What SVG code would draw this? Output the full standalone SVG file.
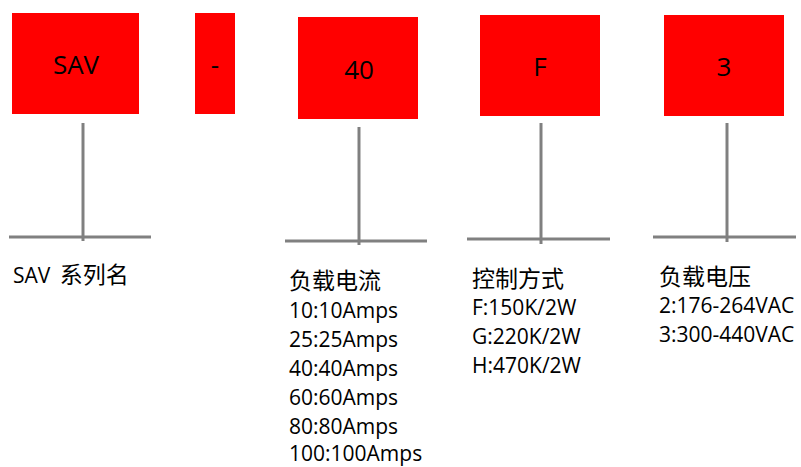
<svg xmlns="http://www.w3.org/2000/svg" width="801" height="467" viewBox="0 0 801 467">
<style>
.box{fill:#ff0000}
.bl{font-family:"Open Sans","Liberation Sans",sans-serif;font-size:26px;fill:#000;text-anchor:middle}
.t{font-family:"Open Sans","Noto Sans CJK SC",sans-serif;font-size:21px;fill:#000}
.cj{font-family:"Noto Sans CJK SC",sans-serif;font-size:23px}
.ln{stroke:#808080;stroke-width:3;fill:none}
</style>
<rect width="801" height="467" fill="#fff"/>
<g id="node-sav"><rect class="box" x="12" y="13" width="127" height="101"/><text class="bl" x="76" y="74">SAV</text></g>
<g id="node-dash"><rect class="box" x="195" y="13" width="40" height="101"/><text class="bl" x="215" y="74">-</text></g>
<g id="node-40"><rect class="box" x="298" y="17" width="120" height="102"/><text class="bl" x="359" y="79">40</text></g>
<g id="node-f"><rect class="box" x="480" y="15" width="120" height="101"/><text class="bl" x="540" y="76">F</text></g>
<g id="node-3"><rect class="box" x="664" y="15" width="120" height="101"/><text class="bl" x="724" y="76">3</text></g>
<g id="connectors">
<line class="ln" x1="83" y1="123" x2="83" y2="241"/><line class="ln" x1="9" y1="237" x2="151" y2="237"/>
<line class="ln" x1="359" y1="127" x2="359" y2="245"/><line class="ln" x1="285" y1="241" x2="427" y2="241"/>
<line class="ln" x1="541" y1="123" x2="541" y2="244"/><line class="ln" x1="467" y1="239" x2="610" y2="239"/>
<line class="ln" x1="727" y1="123" x2="727" y2="242"/><line class="ln" x1="653" y1="237" x2="796" y2="237"/>
</g>
<g id="label-sav"><text class="t" x="13" y="283">SAV <tspan class="cj" dx="4">系列名</tspan></text></g>
<g id="label-current">
<text class="t cj" x="289" y="289">负载电流</text>
<text class="t" x="289" y="318">10:10Amps</text>
<text class="t" x="289" y="347">25:25Amps</text>
<text class="t" x="289" y="376">40:40Amps</text>
<text class="t" x="289" y="405">60:60Amps</text>
<text class="t" x="289" y="434">80:80Amps</text>
<text class="t" x="289" y="461">100:100Amps</text>
</g>
<g id="label-control">
<text class="t cj" x="472" y="287">控制方式</text>
<text class="t" x="472" y="315">F:150K/2W</text>
<text class="t" x="472" y="344">G:220K/2W</text>
<text class="t" x="472" y="373">H:470K/2W</text>
</g>
<g id="label-voltage">
<text class="t cj" x="659" y="285">负载电压</text>
<text class="t" x="659" y="313">2:176-264VAC</text>
<text class="t" x="659" y="342">3:300-440VAC</text>
</g>
</svg>
